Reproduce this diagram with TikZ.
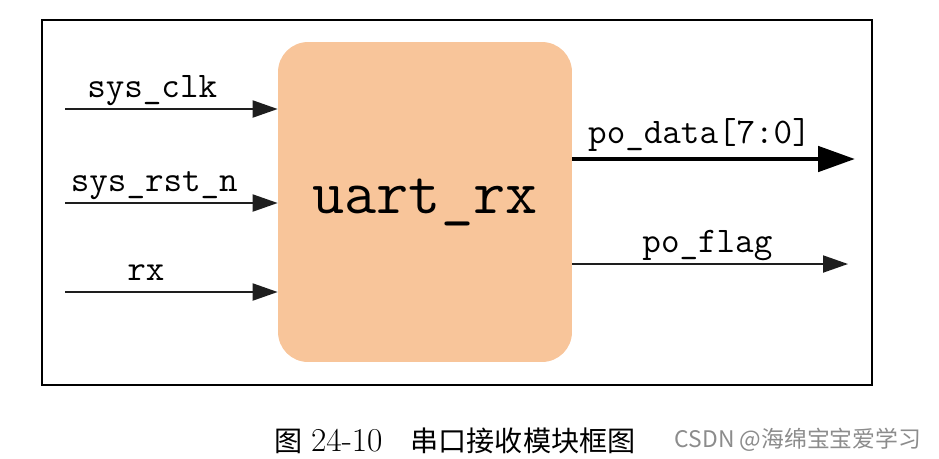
\documentclass[tikz,border=0pt]{standalone}
\usepackage{fontspec}
\usepackage{xcolor}
\newfontfamily\cjk{Noto Sans CJK SC}
\usetikzlibrary{arrows.meta, positioning}
\definecolor{blockfill}{HTML}{F8C59A}
\definecolor{wire}{HTML}{1E1E1E}

\begin{document}
\begin{tikzpicture}[
    x=0.02cm, y=-0.02cm,
    frame/.style={rectangle, draw=black, line width=1.4pt, minimum width=16.6cm, minimum height=7.3cm},
    block/.style={rectangle, rounded corners=0.6cm, fill=blockfill, minimum width=5.88cm, minimum height=6.4cm, font=\fontsize{35.5}{40}\selectfont\ttfamily},
    sig/.style={-{Triangle[length=0.5cm, width=0.34cm]}, draw=wire, line width=1.1pt},
    bus/.style={-{Triangle[length=0.74cm, width=0.5cm]}, draw=black, line width=2.8pt},
    lbl/.style={anchor=base, yshift=0.24cm, inner sep=0pt, font=\fontsize{20.5}{24}\selectfont\ttfamily}
]
\useasboundingbox (0,0) rectangle (939,458);

\node[frame] (border) at (457,202.5) {};
\node[block] (uart) at (425,202) {uart\_rx};

% free ends of the ports
\coordinate (clk) at (65,109);
\coordinate (rst) at (65,203);
\coordinate (rxin) at (65,292);
\coordinate (data) at (855,159);
\coordinate (flag) at (848,264);

\draw[sig] (clk) -- (clk -| uart.west) node[lbl, pos=.41] {sys\_clk};
\draw[sig] (rst) -- (rst -| uart.west) node[lbl, pos=.42] {sys\_rst\_n};
\draw[sig] (rxin) -- (rxin -| uart.west) node[lbl, pos=.38] {rx};
\draw[bus] (uart.east |- data) -- (data) node[lbl, pos=.45, yshift=0.08cm] {po\_data[7:0]};
\draw[sig] (uart.east |- flag) -- (flag) node[lbl, pos=.49] {po\_flag};

\node[font=\fontsize{16}{20}\selectfont] (caption) at (455,441) {{\cjk 图} {\fontsize{19}{20}\selectfont 24-10}\quad{\cjk 串口接收模块框图}};
\node[font=\cjk\fontsize{13}{15}\selectfont, text=black!45] (mark) at (798,440) {CSDN @海绵宝宝爱学习};
\end{tikzpicture}
\end{document}
